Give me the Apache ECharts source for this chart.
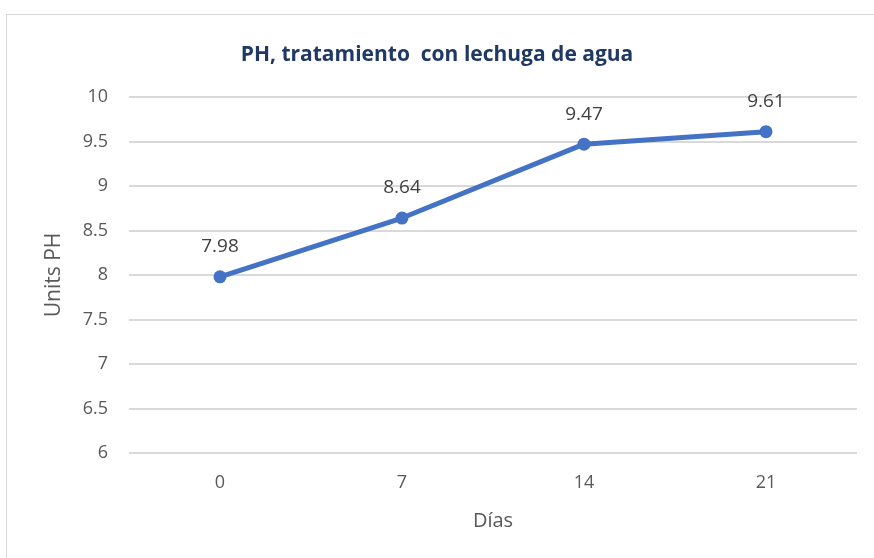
<!DOCTYPE html>
<html>
<head>
<meta charset="utf-8">
<script src="https://cdn.jsdelivr.net/npm/echarts@6/dist/echarts.min.js"></script>
<style>
  html, body { margin: 0; padding: 0; background: #fff; }
  #frame { position: absolute; left: 6px; top: 14px; width: 880px; height: 560px; border: 1px solid #d9d9d9; box-sizing: border-box; }
  #chart { position: absolute; left: 0; top: 0; width: 874px; height: 558px; }
</style>
</head>
<body>
<div id="frame"></div>
<div id="chart"></div>
<script>
// 数据
const dias = ['0', '7', '14', '21'];
const phValues = [7.98, 8.64, 9.47, 9.61];

const chart = echarts.init(document.getElementById('chart'));

const option = {
    animation: false,
    textStyle: { fontFamily: 'Open Sans' },
    title: {
        text: 'PH, tratamiento  con lechuga de agua',
        left: 'center',
        top: 40,
        textStyle: { color: '#203864', fontSize: 21, fontWeight: 'bold', fontFamily: 'Open Sans' }
    },
    grid: { left: 129, right: 17, top: 97, bottom: 105 },
    xAxis: {
        type: 'category',
        data: dias,
        name: 'Días',
        nameLocation: 'middle',
        nameGap: 58,
        nameTextStyle: { color: '#595959', fontSize: 20 },
        axisLine: { show: false },
        axisTick: { show: false },
        axisLabel: { color: '#595959', fontSize: 18, margin: 21 }
    },
    yAxis: {
        type: 'value',
        min: 6,
        max: 10,
        interval: 0.5,
        name: 'Units PH',
        nameLocation: 'middle',
        nameGap: 64,
        nameTextStyle: { color: '#595959', fontSize: 21 },
        axisLine: { show: false },
        axisTick: { show: false },
        axisLabel: { color: '#595959', fontSize: 18, margin: 21 },
        splitLine: { lineStyle: { color: '#d9d9d9', width: 2 } }
    },
    series: [{
        type: 'line',
        data: phValues,
        symbol: 'circle',
        symbolSize: 13,
        lineStyle: { color: '#4472c4', width: 5 },
        itemStyle: { color: '#4472c4' },
        label: {
            show: true,
            position: 'top',
            distance: 14,
            color: '#404040',
            fontSize: 19
        }
    }]
};

chart.setOption(option);
</script>
</body>
</html>
